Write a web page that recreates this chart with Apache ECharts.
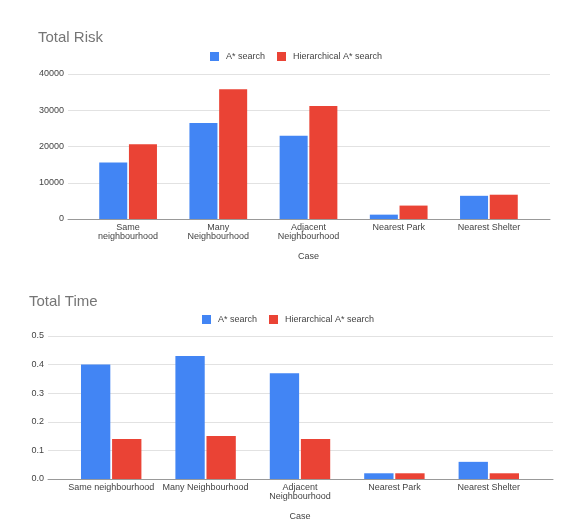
<!DOCTYPE html>
<html>
<head>
<meta charset="utf-8">
<script src="https://cdn.jsdelivr.net/npm/echarts@6/dist/echarts.min.js"></script>
<style>
  html, body { margin: 0; padding: 0; background: #fff; }
  #main { width: 565px; height: 527px; }
</style>
</head>
<body>
<div id="main"></div>
<script>
// categories and values
var cases = ['Same neighbourhood', 'Many Neighbourhood', 'Adjacent Neighbourhood', 'Nearest Park', 'Nearest Shelter'];
var riskLabels = ['Same\nneighbourhood', 'Many\nNeighbourhood', 'Adjacent\nNeighbourhood', 'Nearest Park', 'Nearest Shelter'];
var timeLabels = ['Same neighbourhood', 'Many Neighbourhood', 'Adjacent\nNeighbourhood', 'Nearest Park', 'Nearest Shelter'];
var riskAStar = [15600, 26500, 23000, 1200, 6400];
var riskHier = [20600, 35800, 31200, 3700, 6700];
var timeAStar = [0.40, 0.43, 0.37, 0.02, 0.06];
var timeHier = [0.14, 0.15, 0.14, 0.02, 0.02];
var riskTicks = [0, 40000, 10000];   // min, max, interval
var timeTicks = [0, 0.5, 0.1];

var FONT = 'Arial, "Liberation Sans", sans-serif';
var BLUE = '#4285F4', RED = '#EA4335';

var myChart = echarts.init(document.getElementById('main'));

function legendAt(left, top) {
    return {
        left: left, top: top, padding: 0,
        itemWidth: 9, itemHeight: 9, itemGap: 12,
        icon: 'rect',
        textStyle: { fontFamily: FONT, fontSize: 9, color: '#444', padding: [0, 0, 0, 2] },
        data: ['A* search', 'Hierarchical A* search']
    };
}

// grid 0/2 carry the long grid lines and y labels, grid 1/3 hold the bars
function lineXAxis(grid) {
    return {
        gridIndex: grid, type: 'category', data: cases,
        axisLabel: { show: false }, axisTick: { show: false },
        axisLine: { show: true, lineStyle: { color: '#999', width: 1 } }
    };
}
function barXAxis(grid, labels) {
    return {
        gridIndex: grid, type: 'category', data: labels,
        axisLine: { show: false }, axisTick: { show: false },
        axisLabel: { interval: 0, margin: 4, fontFamily: FONT, fontSize: 9, lineHeight: 9, color: '#444' },
        name: 'Case', nameLocation: 'middle', nameGap: 33,
        nameTextStyle: { fontFamily: FONT, fontSize: 9, color: '#444' }
    };
}
function lineYAxis(grid, t, fmt) {
    return {
        gridIndex: grid, type: 'value', min: t[0], max: t[1], interval: t[2],
        axisLine: { show: false }, axisTick: { show: false },
        axisLabel: { margin: 4, fontFamily: FONT, fontSize: 9, color: '#444', formatter: fmt },
        splitLine: { lineStyle: { color: '#e2e2e2', width: 1 } }
    };
}
function barYAxis(grid, t) {
    return {
        gridIndex: grid, type: 'value', min: t[0], max: t[1], interval: t[2],
        show: false, splitLine: { show: false }
    };
}
function bars(name, color, data, idx) {
    return {
        name: name, type: 'bar', xAxisIndex: idx, yAxisIndex: idx,
        data: data, barCategoryGap: '36%', barGap: '6%',
        itemStyle: { color: color }
    };
}

var titleStyle = { fontFamily: FONT, fontSize: 15, fontWeight: 'normal', color: '#757575' };

var option = {
    animation: false,
    textStyle: { fontFamily: FONT },
    title: [
        { text: 'Total Risk', left: 38, top: 30, padding: 0, textStyle: titleStyle },
        { text: 'Total Time', left: 29, top: 294, padding: 0, textStyle: titleStyle }
    ],
    legend: [legendAt(210, 52), legendAt(202, 315)],
    grid: [
        { left: 68, top: 74, width: 482, height: 145 },
        { left: 83, top: 74, width: 451, height: 145 },
        { left: 48, top: 336, width: 505, height: 143 },
        { left: 64, top: 336, width: 472, height: 143 }
    ],
    xAxis: [lineXAxis(0), barXAxis(1, riskLabels), lineXAxis(2), barXAxis(3, timeLabels)],
    yAxis: [
        lineYAxis(0, riskTicks, function (v) { return String(v); }),
        barYAxis(1, riskTicks),
        lineYAxis(2, timeTicks, function (v) { return v.toFixed(1); }),
        barYAxis(3, timeTicks)
    ],
    series: [
        bars('A* search', BLUE, riskAStar, 1),
        bars('Hierarchical A* search', RED, riskHier, 1),
        bars('A* search', BLUE, timeAStar, 3),
        bars('Hierarchical A* search', RED, timeHier, 3)
    ]
};

myChart.setOption(option);
</script>
</body>
</html>
